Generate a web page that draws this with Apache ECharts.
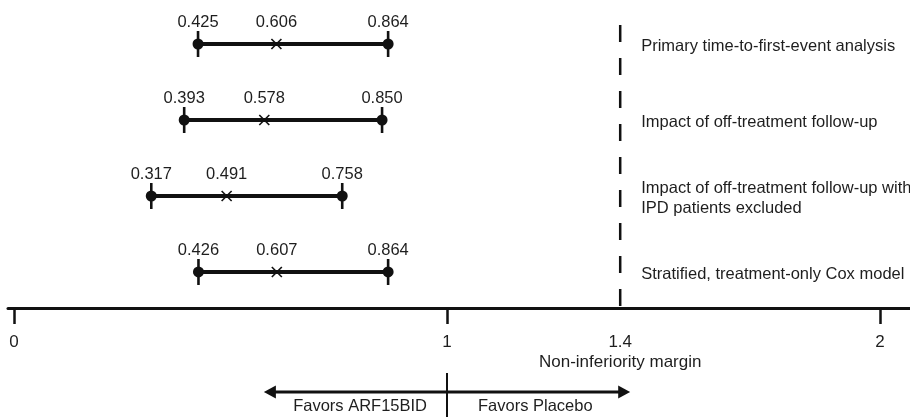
<!DOCTYPE html>
<html>
<head>
<meta charset="utf-8">
<script src="https://cdn.jsdelivr.net/npm/echarts@6/dist/echarts.min.js"></script>
<style>
html,body{margin:0;padding:0;background:#fff;}
#chart{width:910px;height:417px;}
</style>
</head>
<body>
<div id="chart"></div>
<script>
// ---- data ----
const categories = [
  'Primary time-to-first-event analysis',
  'Impact of off-treatment follow-up',
  'Impact of off-treatment follow-up with\nIPD patients excluded',
  'Stratified, treatment-only Cox model'
];
const rowPos = [4, 3, 2, 1];
const lower = [0.425, 0.393, 0.317, 0.426];
const estimate = [0.606, 0.578, 0.491, 0.607];
const upper = [0.864, 0.850, 0.758, 0.864];
const tickValues = [0, 1, 2];
const labelValues = [0, 1, 1.4, 2];
const marginValue = 1.4;
const marginLabel = 'Non-inferiority margin';
const referenceValue = 1;
const arrowLeft = 0.577;
const arrowRight = 1.423;
const favorsLeft = 'Favors ARF15BID';
const favorsRight = 'Favors Placebo';

const FONT = '"Liberation Sans", Arial, Helvetica, sans-serif';
const INK = '#111';
const TXT = '#1e1e1e';
const FS = '16.5px ';

const chart = echarts.init(document.getElementById('chart'), null, {renderer: 'canvas'});

const rows = categories.map((c, i) => [rowPos[i], lower[i], estimate[i], upper[i], c]);

const Y_MIN = 0.526, Y_MAX = 4.579;

function fmt(v){ return v.toFixed(3); }

const option = {
  animation: false,
  backgroundColor: '#fff',
  grid: {left: 8, right: 0, top: 0, bottom: 109, containLabel: false},
  xAxis: {
    type: 'value',
    min: -0.0139,
    max: 2.0693,
    axisLine: {show: true, onZero: false, lineStyle: {color: INK, width: 3}},
    axisTick: {show: true, customValues: tickValues, length: 16, lineStyle: {color: INK, width: 2.5}},
    axisLabel: {
      show: true,
      customValues: labelValues,
      margin: 24,
      color: TXT,
      fontFamily: FONT,
      fontSize: 17,
      lineHeight: 20,
      formatter: function(v){
        if (Math.abs(v - marginValue) < 1e-9) return '1.4\n' + marginLabel;
        return String(v);
      }
    },
    splitLine: {show: false}
  },
  yAxis: {
    type: 'value', min: Y_MIN, max: Y_MAX, show: false
  },
  series: [
    {
      // non-inferiority dashed line
      type: 'custom',
      clip: false,
      data: [[marginValue, 4.25]],
      renderItem: function(params, api){
        const top = api.coord([api.value(0), api.value(1)]);
        const bot = api.coord([api.value(0), Y_MIN]);
        return {
          type: 'line',
          shape: {x1: top[0], y1: top[1], x2: bot[0], y2: bot[1]},
          style: {stroke: INK, lineWidth: 2.5, lineDash: [17, 16]}
        };
      }
    },
    {
      // CI rows
      type: 'custom',
      clip: false,
      data: rows,
      renderItem: function(params, api){
        const y = api.value(0);
        const lo = api.coord([api.value(1), y]);
        const est = api.coord([api.value(2), y]);
        const hi = api.coord([api.value(3), y]);
        const mg = api.coord([marginValue, y]);
        const i = params.dataIndex;
        const lbl = categories[i];
        const children = [
          {type: 'line', shape: {x1: lo[0], y1: lo[1], x2: hi[0], y2: hi[1]}, style: {stroke: INK, lineWidth: 3.8}},
          {type: 'line', shape: {x1: lo[0], y1: lo[1]-13, x2: lo[0], y2: lo[1]+13}, style: {stroke: INK, lineWidth: 2.6}},
          {type: 'line', shape: {x1: hi[0], y1: hi[1]-13, x2: hi[0], y2: hi[1]+13}, style: {stroke: INK, lineWidth: 2.6}},
          {type: 'circle', shape: {cx: lo[0], cy: lo[1], r: 5.5}, style: {fill: INK}},
          {type: 'circle', shape: {cx: hi[0], cy: hi[1], r: 5.5}, style: {fill: INK}},
          {type: 'line', shape: {x1: est[0]-5, y1: est[1]-5, x2: est[0]+5, y2: est[1]+5}, style: {stroke: INK, lineWidth: 1.6}},
          {type: 'line', shape: {x1: est[0]-5, y1: est[1]+5, x2: est[0]+5, y2: est[1]-5}, style: {stroke: INK, lineWidth: 1.6}},
          {type: 'text', style: {text: fmt(lower[i]), x: lo[0], y: lo[1]-22, align: 'center', verticalAlign: 'middle', fill: TXT, font: FS + FONT}},
          {type: 'text', style: {text: fmt(estimate[i]), x: est[0], y: est[1]-22, align: 'center', verticalAlign: 'middle', fill: TXT, font: FS + FONT}},
          {type: 'text', style: {text: fmt(upper[i]), x: hi[0], y: hi[1]-22, align: 'center', verticalAlign: 'middle', fill: TXT, font: FS + FONT}},
          {type: 'text', style: {text: lbl, x: mg[0]+21, y: mg[1]+2, align: 'left', verticalAlign: 'middle', fill: TXT, font: FS + FONT, lineHeight: 20}}
        ];
        return {type: 'group', children: children};
      }
    },
    {
      // favors annotation below axis
      type: 'custom',
      clip: false,
      data: [[referenceValue, arrowLeft, arrowRight]],
      renderItem: function(params, api){
        const base = api.coord([api.value(0), Y_MIN]);
        const l = api.coord([api.value(1), Y_MIN]);
        const r = api.coord([api.value(2), Y_MIN]);
        const ay = base[1] + 84;
        const children = [
          {type: 'line', shape: {x1: l[0]+8, y1: ay, x2: r[0]-8, y2: ay}, style: {stroke: INK, lineWidth: 3}},
          {type: 'polygon', shape: {points: [[l[0], ay], [l[0]+12, ay-6.5], [l[0]+12, ay+6.5]]}, style: {fill: INK}},
          {type: 'polygon', shape: {points: [[r[0], ay], [r[0]-12, ay-6.5], [r[0]-12, ay+6.5]]}, style: {fill: INK}},
          {type: 'line', shape: {x1: base[0], y1: base[1]+65, x2: base[0], y2: base[1]+115}, style: {stroke: INK, lineWidth: 2}},
          {type: 'text', style: {text: favorsLeft, x: base[0]-20, y: base[1]+98, align: 'right', verticalAlign: 'middle', fill: TXT, font: FS + FONT}},
          {type: 'text', style: {text: favorsRight, x: base[0]+31, y: base[1]+98, align: 'left', verticalAlign: 'middle', fill: TXT, font: FS + FONT}}
        ];
        return {type: 'group', children: children};
      }
    }
  ]
};

chart.setOption(option);
</script>
</body>
</html>
